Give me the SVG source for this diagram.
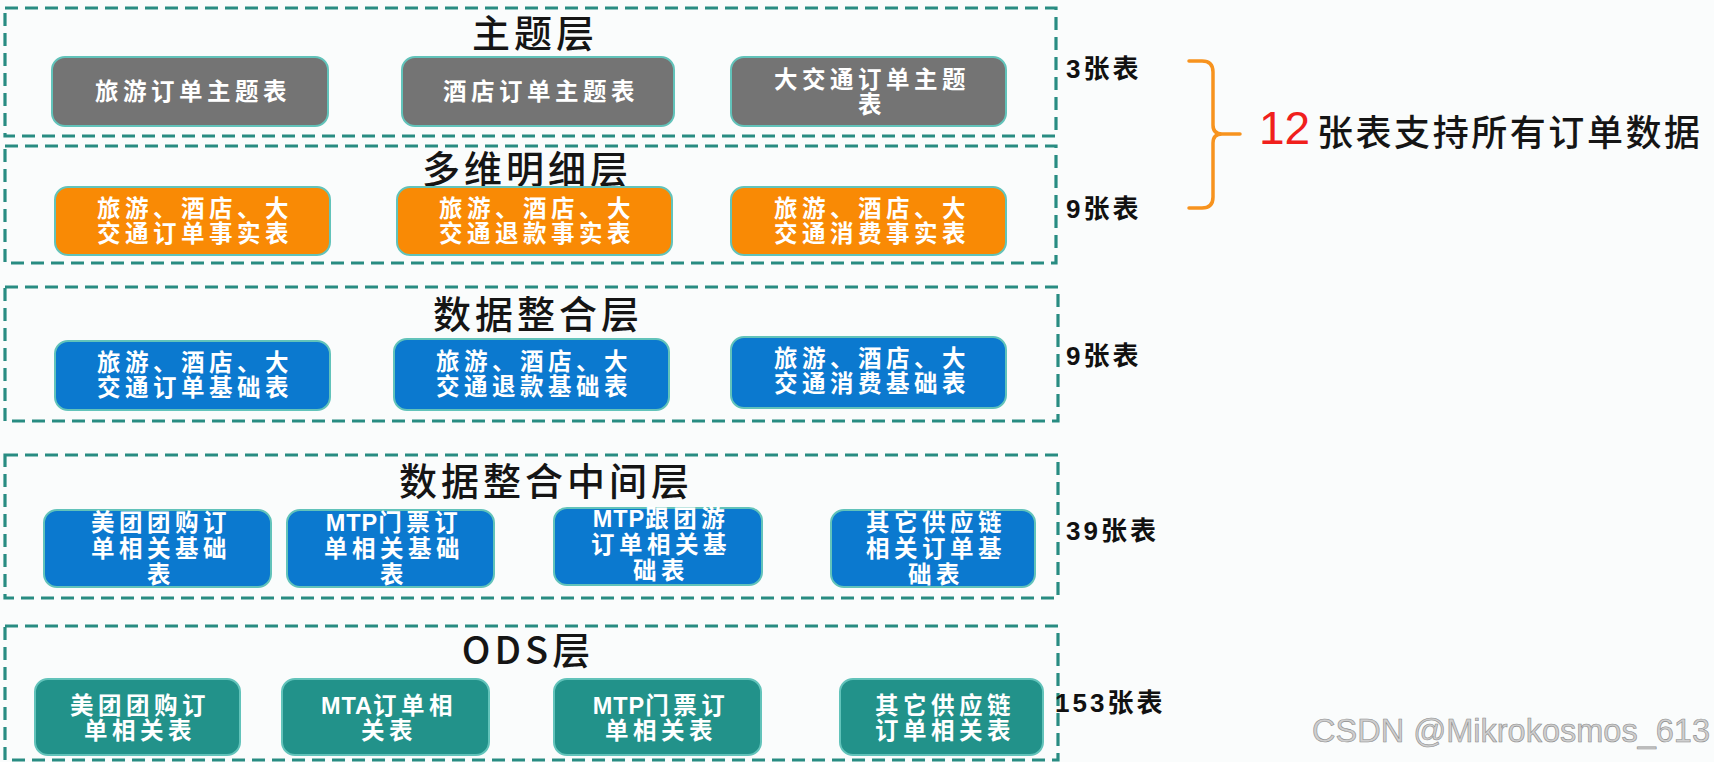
<svg xmlns="http://www.w3.org/2000/svg" width="1714" height="762" viewBox="0 0 1714 762">
<style>
.bg{fill:#fafcfc}
.layer{fill:none;stroke:#288c82;stroke-width:3.2;stroke-dasharray:13 7}
.title{font-family:"Noto Sans CJK SC","Liberation Sans",sans-serif;font-size:38px;font-weight:500;fill:#151515;text-anchor:middle;letter-spacing:4px}
.node{stroke:#62c3ba;stroke-width:2}
.gray{fill:#747474}
.orange{fill:#f98a05}
.blue{fill:#0b79cf}
.teal{fill:#22928a}
.nt{font-family:"Liberation Sans","Noto Sans CJK SC",sans-serif;font-size:23.5px;font-weight:bold;fill:#fff;text-anchor:middle;letter-spacing:4.5px}
.lat{letter-spacing:1px}
.cnt{font-family:"Liberation Sans","Noto Sans CJK SC",sans-serif;font-size:26px;font-weight:bold;fill:#111;letter-spacing:3px}
.brace{fill:none;stroke:#f7931e;stroke-width:3.5;stroke-linecap:round}
</style>
<rect class="bg" x="0" y="0" width="1714" height="762"/>

<g id="layer-subject">
<rect class="layer" x="5" y="8" width="1051" height="128"/>
<text class="title" x="535" y="47">主题层</text>
</g>
<g id="layer-detail">
<rect class="layer" x="5" y="146" width="1051" height="117"/>
<text class="title" x="527" y="183">多维明细层</text>
</g>
<g id="layer-integration">
<rect class="layer" x="5" y="287" width="1053" height="134"/>
<text class="title" x="538" y="328">数据整合层</text>
</g>
<g id="layer-middle">
<rect class="layer" x="5" y="455" width="1053" height="143"/>
<text class="title" x="546" y="495">数据整合中间层</text>
</g>
<g id="layer-ods">
<rect class="layer" x="5" y="626" width="1053" height="134"/>
<text class="title" x="528" y="664">ODS层</text>
</g>

<g id="n-l1-1"><rect class="node gray" x="52" y="57" width="276" height="69" rx="13"/><text class="nt" x="193" y="100">旅游订单主题表</text></g>
<g id="n-l1-2"><rect class="node gray" x="402" y="57" width="272" height="69" rx="13"/><text class="nt" x="541" y="100">酒店订单主题表</text></g>
<g id="n-l1-3"><rect class="node gray" x="731" y="57" width="275" height="69" rx="13"/><text class="nt" x="872" y="88">大交通订单主题</text><text class="nt" x="872" y="113">表</text></g>

<g id="n-l2-1"><rect class="node orange" x="55" y="187" width="275" height="68" rx="13"/><text class="nt" x="195" y="217">旅游、酒店、大</text><text class="nt" x="195" y="242">交通订单事实表</text></g>
<g id="n-l2-2"><rect class="node orange" x="397" y="187" width="275" height="68" rx="13"/><text class="nt" x="537" y="217">旅游、酒店、大</text><text class="nt" x="537" y="242">交通退款事实表</text></g>
<g id="n-l2-3"><rect class="node orange" x="731" y="187" width="275" height="68" rx="13"/><text class="nt" x="872" y="217">旅游、酒店、大</text><text class="nt" x="872" y="242">交通消费事实表</text></g>

<g id="n-l3-1"><rect class="node blue" x="55" y="341" width="275" height="69" rx="13"/><text class="nt" x="195" y="371">旅游、酒店、大</text><text class="nt" x="195" y="396">交通订单基础表</text></g>
<g id="n-l3-2"><rect class="node blue" x="394" y="339" width="275" height="71" rx="13"/><text class="nt" x="534" y="370">旅游、酒店、大</text><text class="nt" x="534" y="395">交通退款基础表</text></g>
<g id="n-l3-3"><rect class="node blue" x="731" y="337" width="275" height="71" rx="13"/><text class="nt" x="872" y="367">旅游、酒店、大</text><text class="nt" x="872" y="392">交通消费基础表</text></g>

<g id="n-l4-1"><rect class="node blue" x="44" y="510" width="227" height="77" rx="13"/><text class="nt" x="161" y="531">美团团购订</text><text class="nt" x="161" y="557">单相关基础</text><text class="nt" x="161" y="583">表</text></g>
<g id="n-l4-2"><rect class="node blue" x="287" y="510" width="207" height="77" rx="13"/><text class="nt" x="394" y="531"><tspan class="lat">MTP</tspan>门票订</text><text class="nt" x="394" y="557">单相关基础</text><text class="nt" x="394" y="583">表</text></g>
<g id="n-l4-3"><rect class="node blue" x="554" y="508" width="208" height="77" rx="13"/><text class="nt" x="661" y="527"><tspan class="lat">MTP</tspan>跟团游</text><text class="nt" x="661" y="553">订单相关基</text><text class="nt" x="661" y="579">础表</text></g>
<g id="n-l4-4"><rect class="node blue" x="831" y="510" width="204" height="77" rx="13"/><text class="nt" x="936" y="531">其它供应链</text><text class="nt" x="936" y="557">相关订单基</text><text class="nt" x="936" y="583">础表</text></g>

<g id="n-l5-1"><rect class="node teal" x="35" y="679" width="205" height="76" rx="13"/><text class="nt" x="140" y="714">美团团购订</text><text class="nt" x="140" y="739">单相关表</text></g>
<g id="n-l5-2"><rect class="node teal" x="282" y="679" width="207" height="76" rx="13"/><text class="nt" x="389" y="714"><tspan class="lat">MTA</tspan>订单相</text><text class="nt" x="389" y="739">关表</text></g>
<g id="n-l5-3"><rect class="node teal" x="554" y="679" width="207" height="76" rx="13"/><text class="nt" x="661" y="714"><tspan class="lat">MTP</tspan>门票订</text><text class="nt" x="661" y="739">单相关表</text></g>
<g id="n-l5-4"><rect class="node teal" x="840" y="679" width="203" height="76" rx="13"/><text class="nt" x="945" y="714">其它供应链</text><text class="nt" x="945" y="739">订单相关表</text></g>

<g id="counts">
<text class="cnt" x="1066" y="78">3张表</text>
<text class="cnt" x="1066" y="218">9张表</text>
<text class="cnt" x="1066" y="365">9张表</text>
<text class="cnt" x="1066" y="540">39张表</text>
<text class="cnt" x="1055" y="712">153张表</text>
</g>

<g id="connectors">
<path class="brace" d="M1189,61 H1202 Q1213,61 1213,72 V125 Q1213,134 1222,134 H1240 M1222,134 Q1213,134 1213,143 V197 Q1213,208 1202,208 H1189"/>
</g>

<g id="summary">
<text x="1259" y="144" font-family="Liberation Sans,sans-serif" font-size="46" fill="#f0201c">12</text>
<text x="1317" y="146" font-family="Noto Sans CJK SC,Liberation Sans,sans-serif" font-size="36" font-weight="500" fill="#151515" textLength="383" lengthAdjust="spacing">张表支持所有订单数据</text>
</g>

<text x="1312" y="742" font-family="Liberation Sans,sans-serif" font-size="33" fill="#cfcfcf" stroke="#8c8c8c" stroke-width="0.6" textLength="398" lengthAdjust="spacingAndGlyphs">CSDN @Mikrokosmos_613</text>
</svg>
